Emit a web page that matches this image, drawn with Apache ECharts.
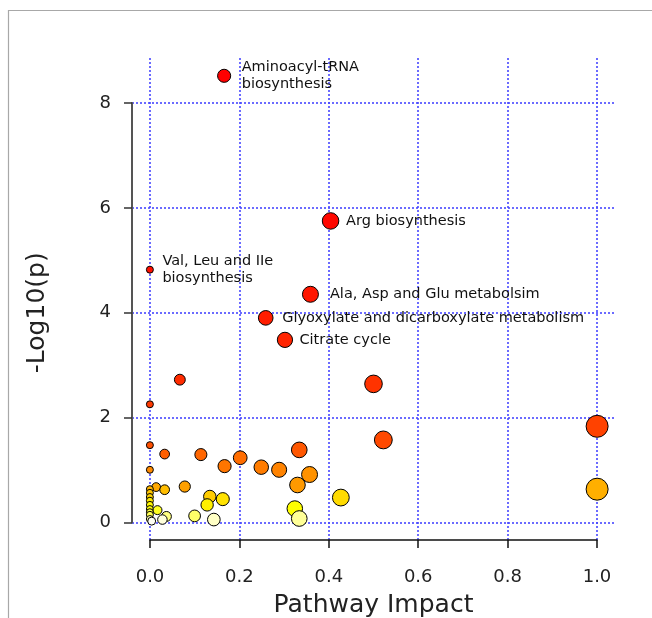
<!DOCTYPE html>
<html><head><meta charset="utf-8">
<script src="https://cdn.jsdelivr.net/npm/echarts@6/dist/echarts.min.js"></script>
<style>html,body{margin:0;padding:0;background:#fff}#c{width:652px;height:618px}</style>
</head><body><div id="c"></div>
<script>
// Pathway impact (x) and -log10(p) (y) for each pathway
const impact = [0.166, 0.404, 0.000, 0.359, 0.259, 0.302, 0.067, 0.500, 0.000, 1.000,
  0.522, 0.000, 0.334, 0.033, 0.114, 0.202, 0.167, 0.249, 0.289, 0.000,
  0.357, 0.330, 0.078, 0.014, 1.000, 0.000, 0.033, 0.000, 0.134, 0.000,
  0.427, 0.163, 0.000, 0.128, 0.000, 0.324, 0.000, 0.017, 0.000, 0.000,
  0.100, 0.037, 0.334, 0.143, 0.028, 0.000, 0.004];
const logp = [8.52, 5.75, 4.82, 4.35, 3.90, 3.48, 2.72, 2.64, 2.25, 1.83,
  1.57, 1.47, 1.38, 1.30, 1.29, 1.23, 1.07, 1.05, 1.00, 1.00,
  0.91, 0.71, 0.68, 0.67, 0.63, 0.63, 0.62, 0.56, 0.49, 0.48,
  0.47, 0.44, 0.41, 0.33, 0.33, 0.26, 0.25, 0.23, 0.19, 0.14,
  0.12, 0.11, 0.07, 0.05, 0.05, 0.06, 0.02];
const pathwayLabels = ["Aminoacyl-tRNA\nbiosynthesis", "Arg biosynthesis", "Val, Leu and IIe\nbiosynthesis",
  "Ala, Asp and Glu metabolsim", "Glyoxylate and dicarboxylate metabolism", "Citrate cycle"];
const xTicks = [0, 0.2, 0.4, 0.6, 0.8, 1.0];
const yTicks = [0, 2, 4, 6, 8];
const xTitle = "Pathway Impact";
const yTitle = "-Log10(p)";

// label gap (px from symbol edge) per labelled point
const labelGap = [10.5, 6.7, 8.5, 11, 8.7, 6.4];

// R heat.colors assigned by rank of -log10(p)
function heatColors(n) {
  const j = Math.floor(n / 4), i = n - j, out = [];
  const hex = v => Math.round(v * 255).toString(16).padStart(2, '0');
  for (let k = 0; k < i; k++) {
    const h = (i > 1 ? k / (i - 1) : 0) / 6;
    out.push('#ff' + hex(h * 6) + '00');
  }
  for (let k = 0; k < j; k++) {
    const s = j > 1 ? (1 - 1 / (2 * j)) + k * ((1 / (2 * j)) - (1 - 1 / (2 * j))) / (j - 1) : 0.5;
    out.push('#ffff' + hex(1 - s));
  }
  return out;
}
const n = impact.length;
const heat = heatColors(n);
const order = impact.map((_, i) => i).sort((a, b) => logp[b] - logp[a]);
const colorOf = new Array(n);
order.forEach((idx, r) => { colorOf[idx] = heat[r]; });

const font = 'DejaVu Sans';
const gridStyle = { color: '#4848ff', width: 1.6, type: [2, 2] };

const points = impact.map((x, i) => {
  const item = {
    value: [x, logp[i]],
    symbolSize: 7 + 15 * Math.sqrt(x),
    itemStyle: { color: colorOf[i] }
  };
  if (i < pathwayLabels.length) {
    item.label = {
      show: true, position: 'right', distance: labelGap[i],
      formatter: pathwayLabels[i], fontFamily: font, fontSize: 14.5,
      color: '#111', lineHeight: 17
    };
  }
  return item;
});

const chart = echarts.init(document.getElementById('c'), null, { renderer: 'canvas' });
chart.setOption({
  animation: false,
  backgroundColor: '#fff',
  graphic: [
    { type: 'polyline', silent: true, z: -10,
      shape: { points: [[8.5, 618], [8.5, 10.5], [652, 10.5]] },
      style: { stroke: '#a8a8a8', lineWidth: 1.2, fill: null } }
  ],
  grid: [
    { left: 132, right: 37, top: 58, bottom: 78, containLabel: false, outerBoundsMode: 'none' },
    { left: 150, right: 55, top: 58, bottom: 78, containLabel: false, outerBoundsMode: 'none' },
    { left: 132, right: 37, top: 103, bottom: 95.5, containLabel: false, outerBoundsMode: 'none' }
  ],
  xAxis: [
    { gridIndex: 0, type: 'value', min: -0.04, max: 1.04, show: false },
    { gridIndex: 1, type: 'value', min: xTicks[0], max: xTicks[xTicks.length - 1], interval: 0.2, position: 'bottom',
      axisLine: { show: true, onZero: false, lineStyle: { color: '#111', width: 1.5 } },
      axisTick: { show: true, inside: false, length: 8, lineStyle: { color: '#111', width: 1.5 } },
      axisLabel: { show: true, margin: 28, fontFamily: font, fontSize: 18, color: '#222',
        formatter: v => v.toFixed(1) },
      splitLine: { show: true, showMinLine: true, showMaxLine: true, lineStyle: gridStyle },
      name: xTitle, nameLocation: 'middle', nameGap: 53,
      nameTextStyle: { fontFamily: font, fontSize: 25, color: '#222' } },
    { gridIndex: 2, type: 'value', min: 0, max: 1, show: false }
  ],
  yAxis: [
    { gridIndex: 0, type: 'value', min: -0.34, max: 8.86, show: false },
    { gridIndex: 1, type: 'value', min: 0, max: 1, show: false },
    { gridIndex: 2, type: 'value', min: yTicks[0], max: yTicks[yTicks.length - 1], interval: 2, position: 'left',
      axisLine: { show: true, onZero: false, lineStyle: { color: '#555', width: 2 } },
      axisTick: { show: true, inside: false, length: 8, lineStyle: { color: '#333', width: 1.5 } },
      axisLabel: { show: true, margin: 21, fontFamily: font, fontSize: 18, color: '#222' },
      splitLine: { show: true, showMinLine: true, showMaxLine: true, lineStyle: gridStyle },
      name: yTitle, nameLocation: 'middle', nameGap: 82, nameRotate: 90,
      nameTextStyle: { fontFamily: font, fontSize: 25, color: '#222' } }
  ],
  series: [
    { type: 'scatter', xAxisIndex: 0, yAxisIndex: 0, symbol: 'circle', z: 5,
      itemStyle: { borderColor: '#000', borderWidth: 1, opacity: 1 },
      data: points }
  ]
});
</script>
</body></html>
